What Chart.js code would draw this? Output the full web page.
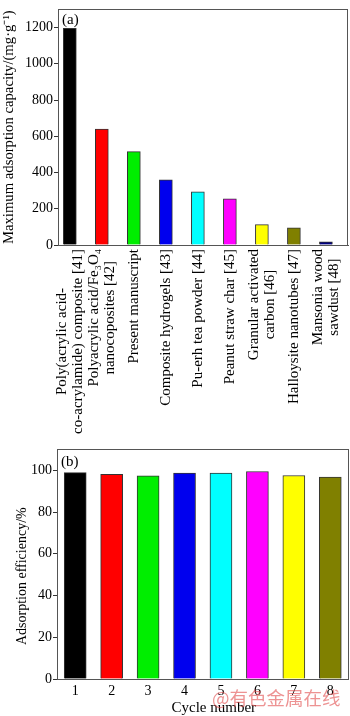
<!DOCTYPE html>
<html>
<head>
<meta charset="utf-8">
<script src="https://cdn.jsdelivr.net/npm/chart.js@4.4.1/dist/chart.umd.min.js"></script>
<style>
  html, body { margin: 0; padding: 0; background: #fff; }
  body { width: 350px; height: 716px; position: relative; overflow: hidden; }
  #wrapA { position: absolute; left: 0; top: 0; }
  #wrapB { position: absolute; left: 0; top: 440px; }
  #mark { position: absolute; left: 212px; top: 684px; font: 18.5px "Noto Sans CJK SC"; color: rgba(225, 75, 75, 0.6); pointer-events: none; white-space: nowrap; }
</style>
</head>
<body>
<div id="wrapA"><canvas id="chartA" width="350" height="440"></canvas></div>
<div id="wrapB"><canvas id="chartB" width="350" height="276"></canvas></div>
<div id="mark">@有色金属在线</div>
<script>
// (a) maximum adsorption capacity of different adsorbents
const adsorbents = [
  ['Poly(acrylic acid-', 'co-acrylamide) composite [41]'],
  ['Polyacrylic acid/Fe₃O₄', 'nanocoposites [42]'],
  ['Present manuscript'],
  ['Composite hydrogels [43]'],
  ['Pu-erh tea powder [44]'],
  ['Peanut straw char [45]'],
  ['Granular activated', 'carbon [46]'],
  ['Halloysite nanotubes [47]'],
  ['Mansonia wood', 'sawdust [48]']
];
const capacity = [1195, 640, 515, 360, 293, 255, 112, 95, 17];
const capacityColors = ['#000000', '#ff0000', '#00ee00', '#0000ee', '#00ffff', '#ff00ff', '#ffff00', '#808000', '#000080'];

// (b) adsorption efficiency over reuse cycles
const cycles = ['1', '2', '3', '4', '5', '6', '7', '8'];
const efficiency = [98.9, 98.0, 97.3, 98.7, 98.7, 99.4, 97.5, 96.7];
const cycleColors = ['#000000', '#ff0000', '#00ee00', '#0000ee', '#00ffff', '#ff00ff', '#ffff00', '#808000'];

const FONT = '"Liberation Serif", "Times New Roman", serif';
const frameColor = '#555';

// box round the plot area plus the panel letter
function framePlugin(letter, dy) {
  return {
    id: 'frame',
    afterDraw(chart) {
      const a = chart.chartArea, ctx = chart.ctx;
      ctx.save();
      ctx.strokeStyle = frameColor;
      ctx.lineWidth = 1;
      ctx.strokeRect(Math.round(a.left) + 0.5, Math.round(a.top) + 0.5,
        Math.round(a.right - a.left) - 1, Math.round(a.bottom - a.top));
      ctx.fillStyle = '#000';
      ctx.font = '15px ' + FONT;
      ctx.textBaseline = 'middle';
      ctx.fillText(letter, a.left + 4, a.top + dy);
      ctx.restore();
    }
  };
}

// rotated, centre-aligned multi-line category names under chart (a)
const rotatedLabels = {
  id: 'rotatedLabels',
  afterDraw(chart) {
    const ctx = chart.ctx, xs = chart.scales.x, top = chart.chartArea.bottom + 4;
    ctx.save();
    ctx.font = '15px ' + FONT;
    ctx.fillStyle = '#000';
    ctx.textAlign = 'center';
    ctx.textBaseline = 'middle';
    adsorbents.forEach((lines, i) => {
      const px = xs.getPixelForValue(i + 1);
      const w = Math.max(...lines.map(l => ctx.measureText(l).width));
      ctx.save();
      ctx.translate(px, top + w / 2);
      ctx.rotate(-Math.PI / 2);
      lines.forEach((l, j) => ctx.fillText(l, 0, (j - (lines.length - 1) / 2) * 16));
      ctx.restore();
    });
    ctx.restore();
  }
};

// axis titles of chart (b), slightly off-centre as in the figure
const titlesB = {
  id: 'titlesB',
  afterDraw(chart) {
    const ctx = chart.ctx, a = chart.chartArea;
    ctx.save();
    ctx.font = '14px ' + FONT;
    ctx.fillStyle = '#000';
    ctx.textAlign = 'center';
    ctx.textBaseline = 'middle';
    ctx.save();
    ctx.translate(22, (a.top + a.bottom) / 2 + 12);
    ctx.rotate(-Math.PI / 2);
    ctx.fillText('Adsorption efficiency/%', 0, 0);
    ctx.restore();
    ctx.font = '15px ' + FONT;
    ctx.fillText('Cycle number', (a.left + a.right) / 2 + 11, 268);
    ctx.restore();
  }
};

const yTickStyle = {
  font: { family: FONT, size: 14 },
  color: '#000',
  padding: 1,
  callback: v => String(v)
};

new Chart(document.getElementById('chartA'), {
  type: 'bar',
  data: {
    datasets: [{
      data: capacity.map((v, i) => ({ x: i + 1, y: v })),
      backgroundColor: capacityColors,
      borderColor: '#333',
      borderWidth: 1,
      barThickness: 13
    }]
  },
  options: {
    responsive: false,
    animation: false,
    layout: { padding: { top: 1, right: 2, left: 0, bottom: 0 } },
    plugins: { legend: { display: false }, tooltip: { enabled: false } },
    scales: {
      x: {
        type: 'linear',
        offset: false,
        min: 0.631,
        max: 9.69,
        grid: { display: false, drawTicks: false },
        border: { display: true, color: frameColor },
        ticks: { display: false },
        afterFit(s) { s.height = 195; }
      },
      y: {
        min: 0,
        max: 1300,
        grid: { drawOnChartArea: false, drawTicks: true, tickLength: 4, color: '#333' },
        border: { display: true, color: frameColor },
        ticks: Object.assign({ stepSize: 200, includeBounds: false }, yTickStyle),
        title: {
          display: true,
          text: 'Maximum adsorption capacity/(mg·g⁻¹)',
          font: { family: FONT, size: 14.7 },
          color: '#000',
          padding: 0
        },
        afterFit(s) { s.width = 58; }
      }
    }
  },
  plugins: [framePlugin('(a)', 11), rotatedLabels]
});

new Chart(document.getElementById('chartB'), {
  type: 'bar',
  data: {
    labels: cycles,
    datasets: [{
      data: efficiency,
      backgroundColor: cycleColors,
      borderColor: '#333',
      borderWidth: 1,
      barThickness: 22
    }]
  },
  options: {
    responsive: false,
    animation: false,
    layout: { padding: { top: 3, right: 1.5, left: 0, bottom: 0 } },
    plugins: { legend: { display: false }, tooltip: { enabled: false } },
    scales: {
      x: {
        grid: { display: false, drawTicks: false },
        border: { display: true, color: frameColor },
        ticks: { font: { family: FONT, size: 14 }, color: '#000', padding: 4 },
        afterFit(s) { s.height = 37; }
      },
      y: {
        min: 0,
        max: 110,
        grid: { drawOnChartArea: false, drawTicks: true, tickLength: 4, color: '#333' },
        border: { display: true, color: frameColor },
        ticks: Object.assign({ stepSize: 20, includeBounds: false }, yTickStyle),
        afterFit(s) { s.width = 57; }
      }
    }
  },
  plugins: [framePlugin('(b)', 13), titlesB]
});
</script>
</body>
</html>
